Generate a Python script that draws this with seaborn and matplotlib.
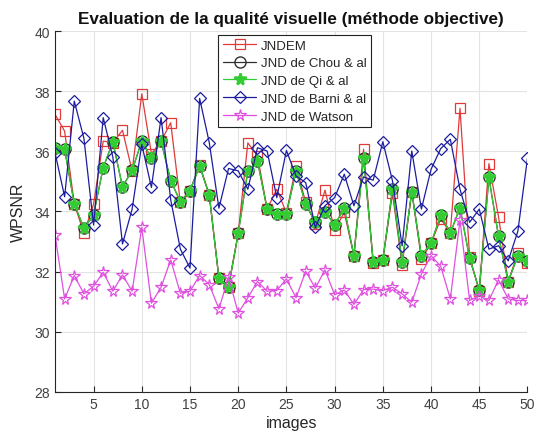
import numpy as np
import pandas as pd
import matplotlib
matplotlib.use("Agg")
import matplotlib.pyplot as plt
import seaborn as sns

images = list(range(1, 51))

jndem = [37.23, 36.67, 34.25, 33.28, 34.24, 36.34, 36.29, 36.70, 35.35, 37.91,
         35.92, 36.34, 36.95, 34.30, 34.69, 35.55, 34.55, 31.78, 31.50, 33.27,
         36.28, 35.85, 34.08, 34.74, 33.95, 35.51, 34.30, 33.60, 34.71, 33.38,
         33.97, 32.53, 36.07, 32.28, 32.39, 34.60, 32.22, 34.66, 32.42, 32.94,
         33.75, 33.30, 37.43, 32.50, 31.35, 35.59, 33.82, 31.67, 32.61, 32.30]

chou = [36.12, 36.07, 34.25, 33.44, 33.89, 35.46, 36.31, 34.82, 35.37, 36.34,
        35.77, 36.34, 35.02, 34.33, 34.69, 35.51, 34.55, 31.78, 31.50, 33.27,
        35.35, 35.68, 34.08, 33.93, 33.93, 35.35, 34.24, 33.64, 33.99, 33.56,
        34.10, 32.53, 35.79, 32.33, 32.39, 34.74, 32.31, 34.66, 32.53, 32.94,
        33.88, 33.28, 34.13, 32.44, 31.39, 35.13, 33.17, 31.67, 32.53, 32.36]

qi = [36.12, 36.07, 34.25, 33.44, 33.89, 35.46, 36.31, 34.82, 35.37, 36.34,
      35.77, 36.34, 35.02, 34.33, 34.69, 35.51, 34.55, 31.78, 31.50, 33.27,
      35.35, 35.68, 34.08, 33.93, 33.93, 35.35, 34.24, 33.64, 33.99, 33.56,
      34.10, 32.53, 35.79, 32.33, 32.39, 34.74, 32.31, 34.66, 32.53, 32.94,
      33.88, 33.28, 34.13, 32.44, 31.39, 35.13, 33.17, 31.67, 32.53, 32.36]

barni = [35.96, 34.49, 37.67, 36.43, 33.55, 37.12, 35.81, 32.92, 34.08, 36.23,
         34.80, 37.12, 34.39, 32.75, 32.12, 37.76, 36.29, 34.11, 35.43, 35.35,
         34.74, 36.12, 36.01, 34.46, 36.03, 35.18, 34.96, 33.47, 34.19, 34.46,
         35.24, 34.19, 35.15, 35.04, 36.32, 35.02, 32.86, 36.01, 34.08, 35.40,
         36.09, 36.40, 34.74, 33.64, 34.08, 32.75, 32.86, 32.36, 33.34, 35.77]

watson = [33.23, 31.09, 31.87, 31.26, 31.51, 31.98, 31.35, 31.89, 31.35, 33.47,
          30.95, 31.48, 32.39, 31.28, 31.35, 31.87, 31.57, 30.76, 31.82, 30.62,
          31.13, 31.67, 31.35, 31.37, 31.76, 31.13, 32.01, 31.45, 32.06, 31.23,
          31.39, 30.91, 31.40, 31.42, 31.37, 31.48, 31.26, 30.98, 31.92, 32.53,
          32.18, 31.09, 33.71, 31.04, 31.20, 31.04, 31.73, 31.09, 31.04, 31.04]

labels = ["JNDEM", "JND de Chou & al", "JND de Qi & al",
          "JND de Barni & al", "JND de Watson"]

x_ticks = [5, 10, 15, 20, 25, 30, 35, 40, 45, 50]
y_ticks = [28, 30, 32, 34, 36, 38, 40]

sns.set_theme(style="whitegrid")
plt.rcParams["font.family"] = ["Liberation Sans", "DejaVu Sans"]

fig = plt.figure(figsize=(5.36, 4.39), dpi=100)
ax = fig.add_axes([0.1026, 0.105, 0.8815, 0.822])

styles = [
    dict(data=jndem, color="#e03a3a", marker="s", ms=6.5, mfc="none", mew=0.9, lw=0.9),
    dict(data=chou, color="#303030", marker="o", ms=8, mfc="none", mew=1.0, lw=0.9),
    dict(data=qi, color="#33cc33", marker="*", ms=8.5, mfc="#33cc33", mew=1.8, lw=0.9),
    dict(data=barni, color="#1c1ca0", marker="D", ms=6.5, mfc="none", mew=0.9, lw=0.9),
    dict(data=watson, color="#e050e0", marker="*", ms=8.5, mfc="none", mew=0.9, lw=0.9),
]

for lab, st in zip(labels, styles):
    df = pd.DataFrame({"images": images, "WPSNR": st["data"]})
    sns.lineplot(data=df, x="images", y="WPSNR", ax=ax, label=lab,
                 color=st["color"], marker=st["marker"], markersize=st["ms"],
                 markerfacecolor=st["mfc"], markeredgecolor=st["color"],
                 markeredgewidth=st["mew"], linewidth=st["lw"])

ax.set_xlim(1, 50)
ax.set_ylim(28, 40)
ax.set_xticks(x_ticks)
ax.set_yticks(y_ticks)
ax.set_facecolor("white")
ax.grid(True, color="#e3e3e3", linewidth=0.8)
for side in ("top", "right"):
    ax.spines[side].set_visible(False)
for side in ("left", "bottom"):
    ax.spines[side].set_visible(True)
    ax.spines[side].set_color("#262626")
    ax.spines[side].set_linewidth(0.8)
ax.tick_params(direction="in", length=4, width=0.8, colors="#262626",
               labelsize=10, left=True, bottom=True)
for lbl in ax.get_xticklabels() + ax.get_yticklabels():
    lbl.set_color("#404040")

ax.set_xlabel("images", fontsize=11.5, color="#262626", labelpad=3)
ax.set_ylabel("WPSNR", fontsize=11.5, color="#262626", labelpad=6)
ax.set_title("Evaluation de la qualité visuelle (méthode objective)",
             fontsize=12.3, fontweight="bold", color="#111111", pad=6)

leg = ax.legend(loc="upper left", bbox_to_anchor=(0.346, 0.99), fontsize=9.5,
                frameon=True, fancybox=False, framealpha=1, borderpad=0.35,
                labelspacing=0.42, handlelength=2.5, handletextpad=0.35,
                borderaxespad=0)
leg.get_frame().set_edgecolor("#222222")
leg.get_frame().set_linewidth(0.8)

fig.savefig("out.png", dpi=100)
